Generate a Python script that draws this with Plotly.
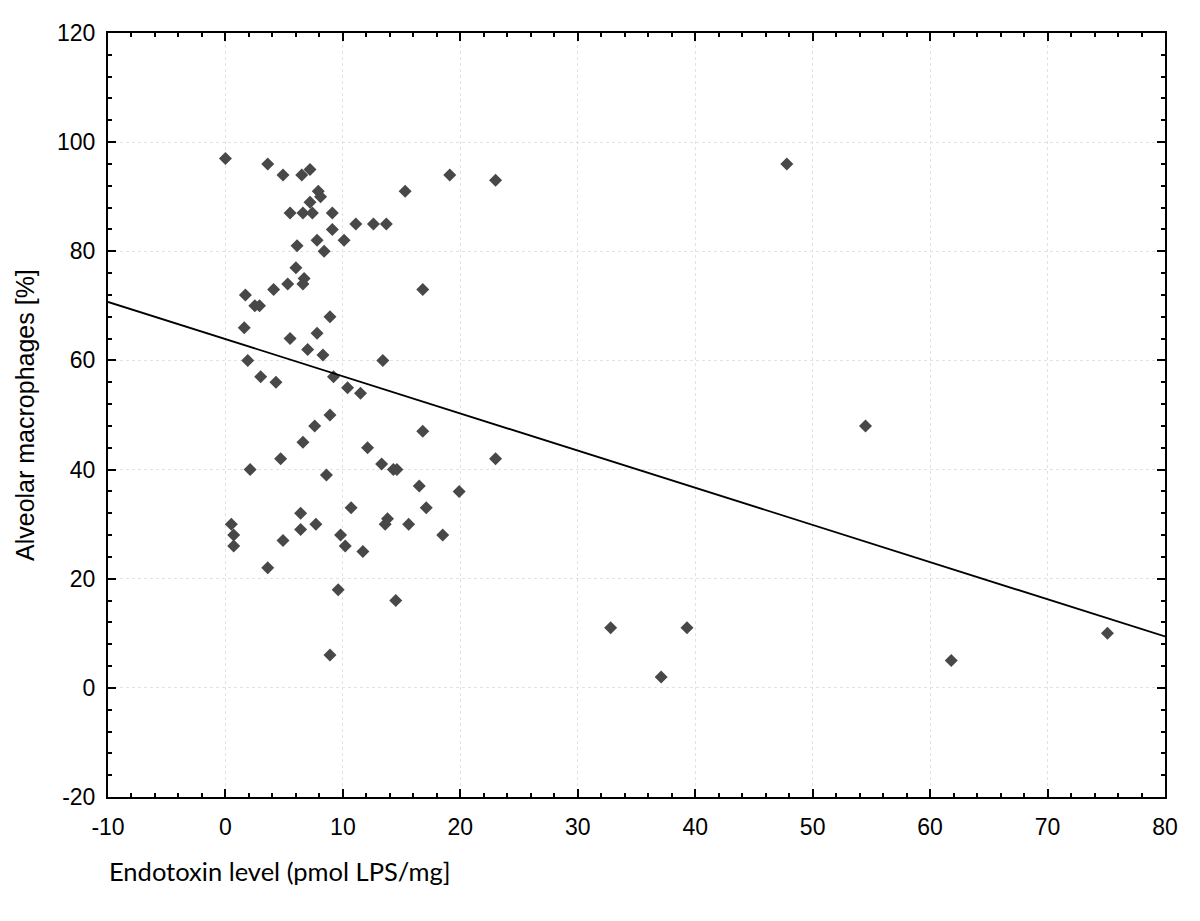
import plotly.graph_objects as go

# Scatter data: endotoxin level (pmol LPS/mg) vs alveolar macrophages (%)
endotoxin = [
    0.0, 3.6, 4.9, 6.5, 7.2, 7.9, 8.1, 7.2, 5.5, 6.6, 7.4, 9.1, 9.1, 11.1, 12.6, 13.7,
    15.3, 19.1, 23.0, 7.8, 10.1, 6.1, 8.4, 6.0, 6.7, 6.6, 5.3, 4.1, 16.8, 1.7, 2.5, 2.9,
    8.9, 1.6, 7.8, 5.5, 7.0, 8.3, 13.4, 1.9, 3.0, 4.3, 9.2, 10.4, 11.5,
    8.9, 7.6, 6.6, 4.7, 2.1, 8.6, 12.1, 13.3, 14.3, 14.6, 16.8, 23.0, 16.5, 19.9, 17.1,
    10.7, 6.4, 0.5, 0.7, 0.7, 6.4, 7.7, 4.9, 3.6, 9.8, 10.2, 11.7, 13.8, 13.6, 15.6,
    18.5, 9.6, 14.5, 8.9,
    47.8, 54.5, 32.8, 37.1, 39.3, 61.8, 75.1,
]
macrophages = [
    97, 96, 94, 94, 95, 91, 90, 89, 87, 87, 87, 87, 84, 85, 85, 85,
    91, 94, 93, 82, 82, 81, 80, 77, 75, 74, 74, 73, 73, 72, 70, 70,
    68, 66, 65, 64, 62, 61, 60, 60, 57, 56, 57, 55, 54,
    50, 48, 45, 42, 40, 39, 44, 41, 40, 40, 47, 42, 37, 36, 33,
    33, 32, 30, 28, 26, 29, 30, 27, 22, 28, 26, 25, 31, 30, 30,
    28, 18, 16, 6,
    96, 48, 11, 2, 11, 5, 10,
]

# Linear fit
fit_intercept = 63.9
fit_slope = -0.681
x_range = [-10, 80]
y_range = [-20, 120]

x_ticks = [-10, 0, 10, 20, 30, 40, 50, 60, 70, 80]
y_ticks = [-20, 0, 20, 40, 60, 80, 100, 120]

x_title = "Endotoxin level (pmol LPS/mg]"
y_title = "Alveolar macrophages [%]"

fit_x = list(x_range)
fit_y = [fit_intercept + fit_slope * v for v in fit_x]

fig = go.Figure()
fig.add_trace(go.Scatter(
    x=endotoxin, y=macrophages, mode="markers",
    marker=dict(symbol="diamond", size=10, color="#484848", line=dict(width=0)),
    showlegend=False, cliponaxis=False,
))
fig.add_trace(go.Scatter(
    x=fit_x, y=fit_y, mode="lines",
    line=dict(color="black", width=1.8),
    showlegend=False,
))

tick_font = dict(family="Liberation Sans", size=23, color="black")

common = dict(
    showline=True, linecolor="black", linewidth=2, mirror="ticks",
    ticks="inside", ticklen=8, tickwidth=1.5, tickcolor="black",
    showgrid=True, gridcolor="#e2e2e2", griddash="dot", gridwidth=1,
    zeroline=False, tickfont=tick_font,
)

fig.update_xaxes(
    range=x_range, tickmode="array", tickvals=x_ticks,
    ticktext=[str(v) for v in x_ticks],
    minor=dict(dtick=2, tick0=0, ticks="inside", ticklen=4, tickwidth=1.5,
               tickcolor="black", showgrid=False),
    ticklabelstandoff=8,
    **common,
)
fig.update_yaxes(
    range=y_range, tickmode="array", tickvals=y_ticks,
    ticktext=[str(v) for v in y_ticks],
    minor=dict(dtick=4, tick0=0, ticks="inside", ticklen=4, tickwidth=1.5,
               tickcolor="black", showgrid=False),
    ticklabelstandoff=6,
    **common,
)

fig.add_annotation(
    text=y_title, xref="paper", yref="paper", x=0, y=0.5,
    xanchor="center", yanchor="middle", xshift=-83, textangle=-90,
    showarrow=False,
    font=dict(family="Liberation Sans", size=25, color="black"),
)
fig.add_annotation(
    text=x_title, xref="paper", yref="paper", x=0, y=0,
    xanchor="left", yanchor="middle", xshift=-1, yshift=-74,
    showarrow=False,
    font=dict(family="Lato", size=25.5, color="black"),
)

# page body has an 8px margin: shrink the figure so the plot area lands where the reference has it
fig.update_layout(
    width=1192, height=913,
    margin=dict(l=100, r=35, t=19, b=124, pad=0),
    paper_bgcolor="white", plot_bgcolor="white",
)

fig.write_html("out.html")
